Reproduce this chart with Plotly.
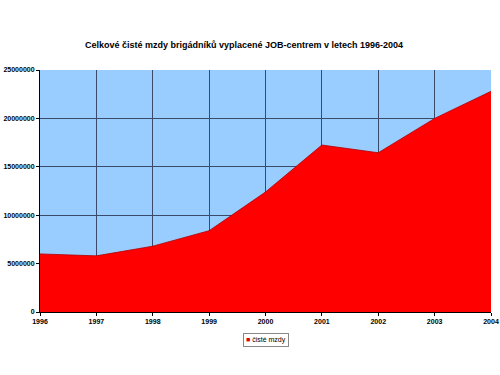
import plotly.graph_objects as go

years = [1996, 1997, 1998, 1999, 2000, 2001, 2002, 2003, 2004]
wages = [6000000, 5800000, 6800000, 8400000, 12400000, 17250000, 16450000, 20000000, 22800000]
series_name = "čisté mzdy"
title = "Celkové čisté mzdy brigádníků vyplacené JOB-centrem v letech 1996-2004"
y_ticks = [0, 5000000, 10000000, 15000000, 20000000, 25000000]

FAM = "Liberation Sans, Arial, sans-serif"

fig = go.Figure()
fig.add_trace(go.Scatter(
    x=years, y=wages, mode="lines", fill="tozeroy",
    fillcolor="#FF0000", line=dict(color="#B00000", width=0.8),
    name=series_name, showlegend=False, hoverinfo="skip",
))

fig.update_layout(
    width=500, height=375,
    margin=dict(l=40, r=9, t=70, b=63),
    paper_bgcolor="white", plot_bgcolor="#99CCFF",
    title=dict(text="<b>" + title + "</b>", x=0.488, xanchor="center", y=0.88, yanchor="middle",
               font=dict(family=FAM, size=9, color="black")),
    font=dict(family=FAM, size=8, color="black"),
    showlegend=False,
)
# legend box (text annotation)
fig.add_annotation(
    xref="paper", yref="paper", x=0.5, y=-0.085, xanchor="center", yanchor="top",
    text='<span style="color:#E00000">■</span> ' + series_name,
    showarrow=False, font=dict(family=FAM, size=7, color="black"),
    bgcolor="white", bordercolor="#888888", borderwidth=1, borderpad=2,
)
fig.update_xaxes(
    range=[1996, 2004], tickmode="array", tickvals=years,
    ticktext=[f"<b>{y}</b>" for y in years],
    tickfont=dict(family=FAM, size=7),
    showgrid=True, gridcolor="#3A4A6A", gridwidth=1,
    showline=True, linecolor="black", linewidth=1,
    ticks="outside", ticklen=3, tickcolor="black", zeroline=False,
    automargin=False,
)
fig.update_yaxes(
    range=[0, 25000000], tickmode="array",
    tickvals=y_ticks,
    ticktext=[f"<b>{v}</b>" for v in y_ticks],
    tickfont=dict(family=FAM, size=7),
    showgrid=True, gridcolor="#3A4A6A", gridwidth=1,
    showline=True, linecolor="black", linewidth=1,
    ticks="outside", ticklen=3, tickcolor="black", zeroline=False,
    automargin=False,
)
fig.write_html("out.html", config={"displayModeBar": False},
               post_script="document.body.style.margin='0';")
